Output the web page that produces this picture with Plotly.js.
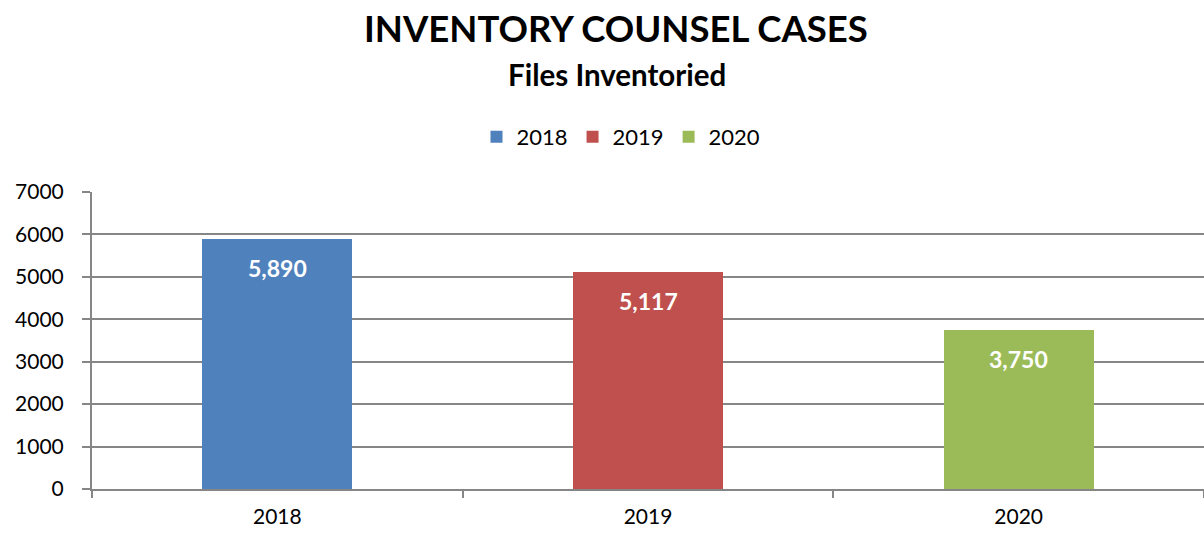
<!DOCTYPE html>
<html><head><meta charset="utf-8">
<script src="https://cdn.plot.ly/plotly-3.0.1.min.js"></script>
<style>html,body{margin:0;padding:0;background:#fff}#chart{width:1204px;height:536px}</style>
</head><body><div id="chart"></div>
<script>
const categories = ["2018", "2019", "2020"];
const seriesNames = ["2018", "2019", "2020"];
const values = [5890, 5117, 3750];
const colors = ["#4F81BD", "#C0504D", "#9BBB59"];
const yTicks = [0, 1000, 2000, 3000, 4000, 5000, 6000, 7000];

const FONT = "Lato, 'Open Sans', sans-serif";
const W = 1204, H = 536, T = 192, B = 47, L = 92;
const plotH = H - T - B, plotW = W - L;
const py = px => (H - B - px) / plotH;   // page pixel row -> paper fraction
const pxX = px => (px - L) / plotW;      // page pixel column -> paper fraction

const traces = seriesNames.map((name, i) => ({
  type: "bar",
  name: name,
  x: [categories[i]],
  y: [values[i]],
  width: 0.405,
  marker: {color: colors[i]},
  hoverinfo: "skip"
}));

const valueLabels = categories.map((c, i) => ({
  x: i, y: values[i], xref: "x", yref: "y", yanchor: "top", yshift: -13,
  text: "<b>" + values[i].toLocaleString("en-US") + "</b>",
  showarrow: false, font: {color: "#FFFFFF", size: 23, family: FONT}
}));

const layout = {
  width: W, height: H,
  margin: {l: L, r: 0, t: T, b: B},
  paper_bgcolor: "#fff", plot_bgcolor: "#fff",
  barmode: "stack",
  font: {family: FONT, color: "#000"},
  showlegend: true,
  legend: {orientation: "h", x: pxX(621), xref: "paper", xanchor: "center", y: 1 - 137 / H, yref: "container", yanchor: "middle",
    font: {size: 22, family: FONT}, traceorder: "normal"},
  annotations: [
    {text: "<b>INVENTORY COUNSEL CASES</b>", xref: "paper", yref: "paper", x: pxX(616), y: py(28), yanchor: "middle",
      showarrow: false, font: {size: 36.5, family: FONT}},
    {text: "<b>Files Inventoried</b>", xref: "paper", yref: "paper", x: pxX(617), y: py(74), yanchor: "middle",
      showarrow: false, font: {size: 29.5, family: FONT}}
  ].concat(valueLabels),
  xaxis: {
    type: "category", categoryorder: "array", categoryarray: categories,
    tickson: "boundaries", ticks: "outside", ticklen: 7, tickwidth: 2, tickcolor: "#868686",
    showline: true, linecolor: "#868686", linewidth: 2,
    showgrid: false, tickfont: {size: 21, family: FONT}, ticklabelstandoff: 8,
    fixedrange: true
  },
  yaxis: {
    range: [0, 7000], tickvals: yTicks, ticktext: yTicks.map(String),
    ticks: "outside", ticklen: 8, tickwidth: 2, tickcolor: "#868686",
    showline: true, linecolor: "#868686", linewidth: 2,
    showgrid: true, gridcolor: "#868686", gridwidth: 2, zeroline: false,
    tickfont: {size: 21, family: FONT}, ticklabelstandoff: 14,
    fixedrange: true
  }
};
Plotly.newPlot("chart", traces, layout, {displayModeBar: false, staticPlot: true});
</script></body></html>
